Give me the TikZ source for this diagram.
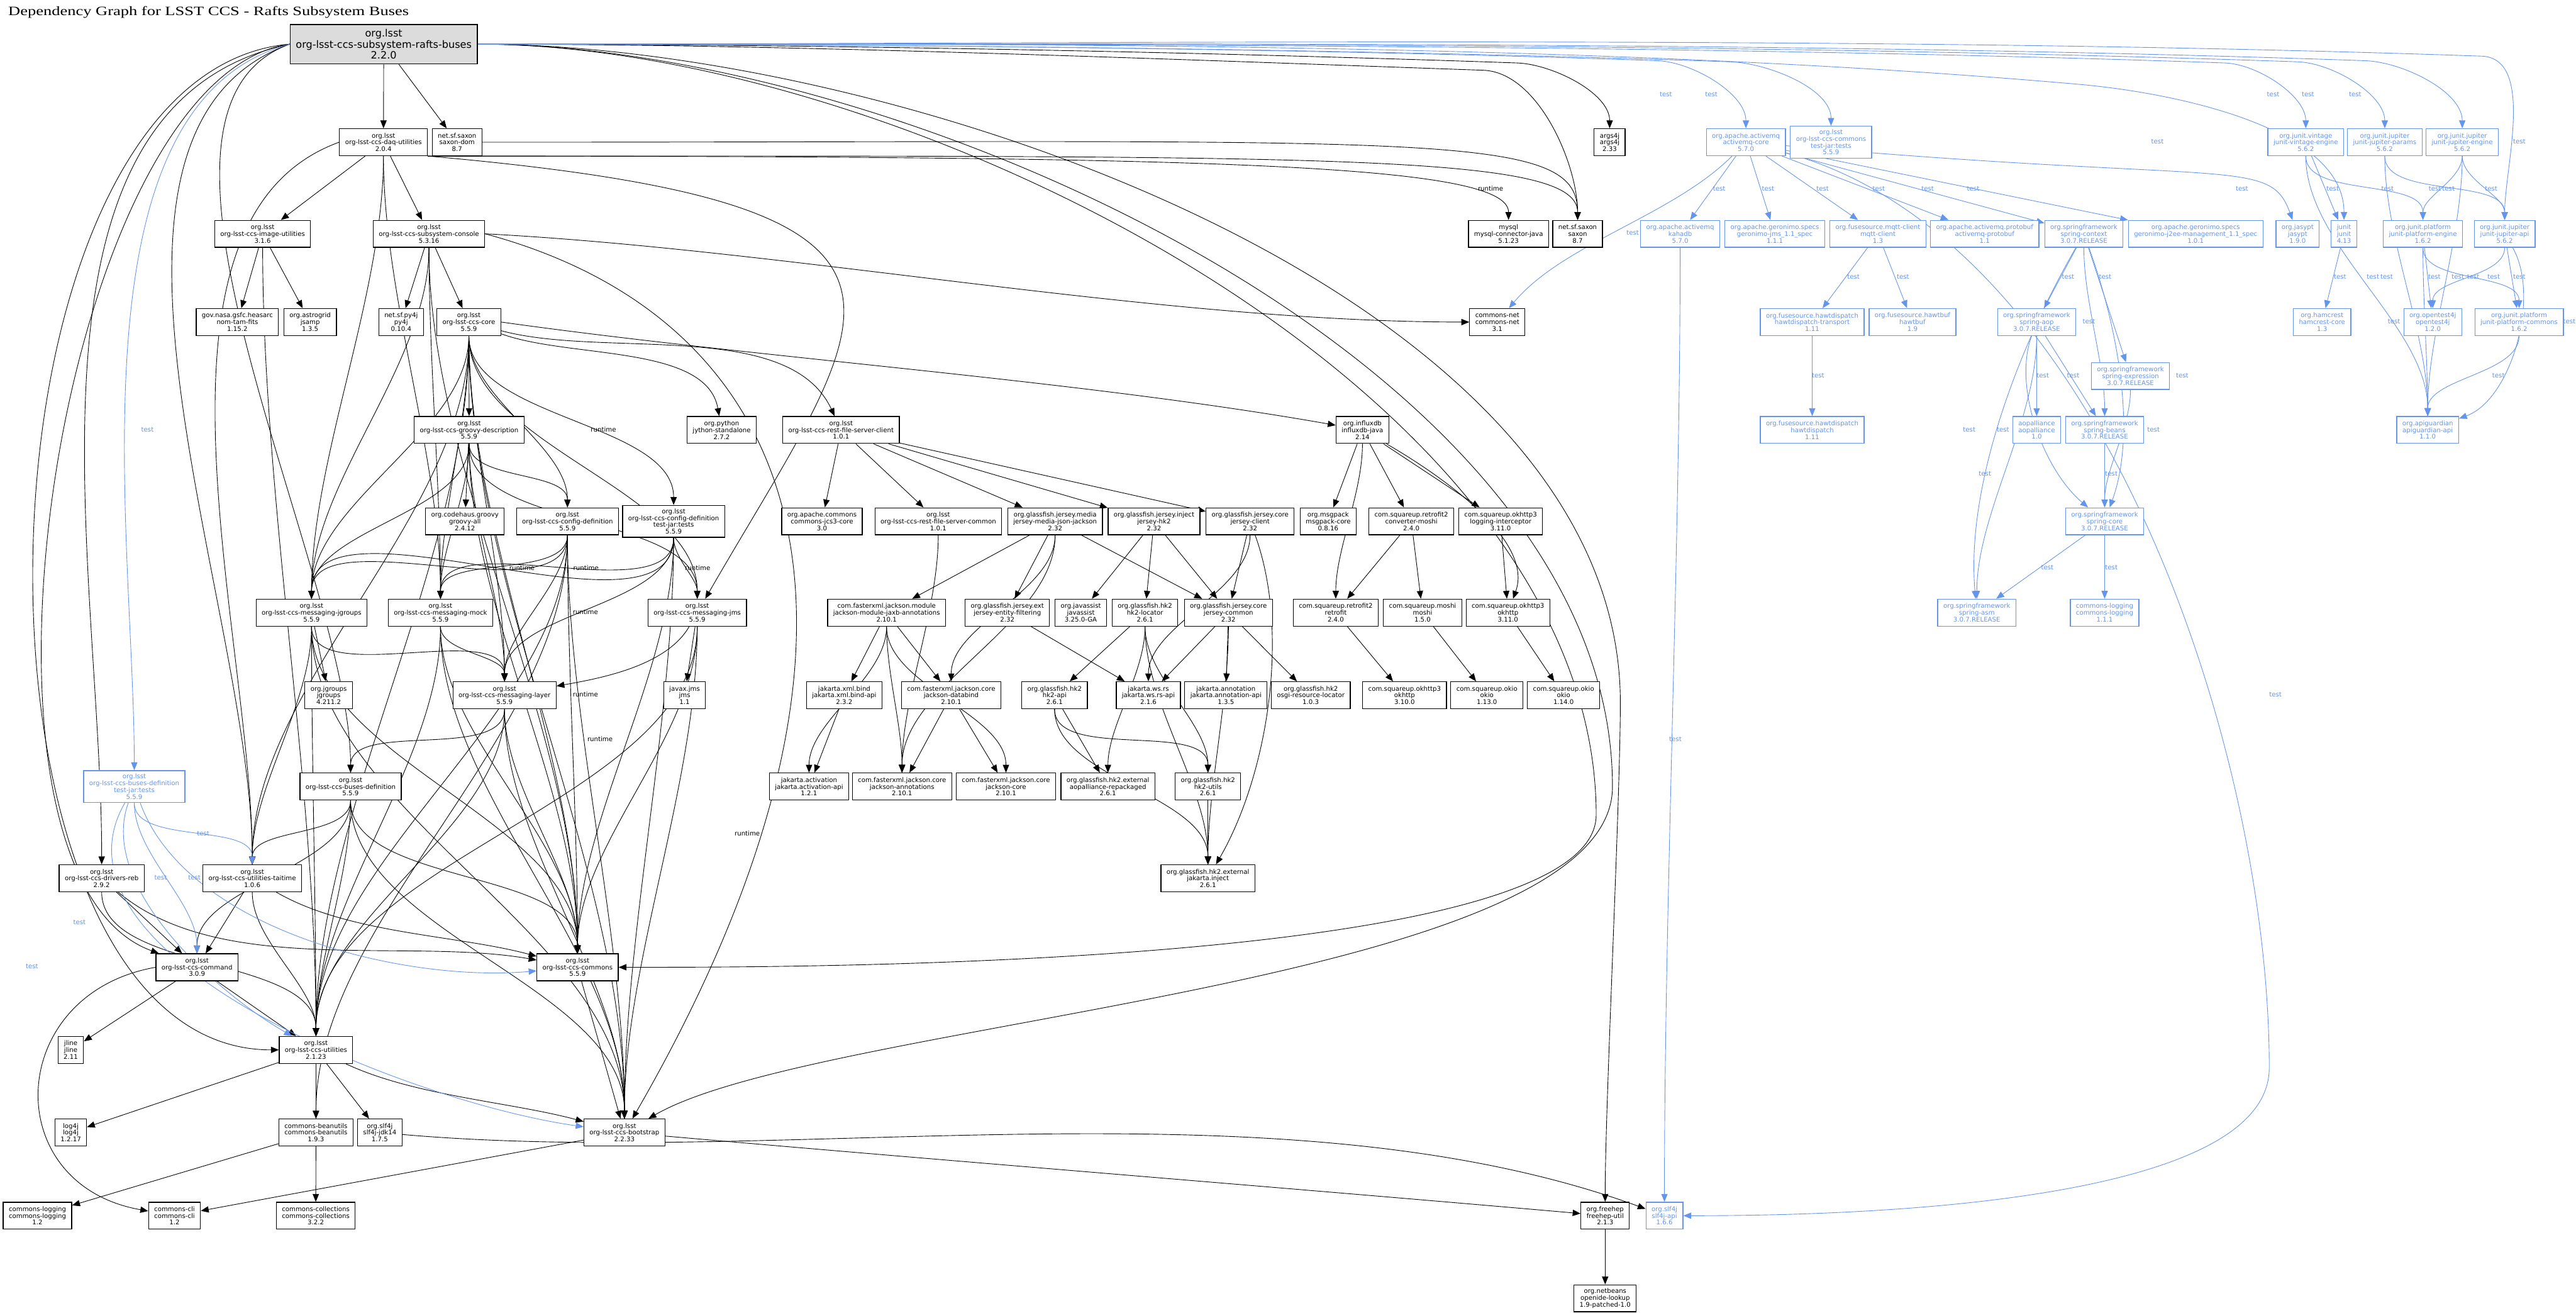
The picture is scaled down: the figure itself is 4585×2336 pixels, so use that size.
\documentclass[tikz,border=0pt]{standalone}
\usepackage{fontspec}
\usetikzlibrary{arrows.meta, backgrounds}
\newfontfamily\pkgfont{DejaVu Sans}
\newfontfamily\titlefont{Liberation Serif}[FakeStretch=1.3]
\definecolor{testBlue}{RGB}{100,149,237}
\definecolor{rootGray}{RGB}{220,220,220}

\begin{document}
\begin{tikzpicture}[x=0.25pt, y=-0.25pt,
    pkg/.style={rectangle, draw=black, line width=0.35pt, fill=white, align=center, inner xsep=2.5pt, inner ysep=1.5pt, minimum height=12pt, font=\pkgfont\fontsize{2.85}{3}\selectfont},
    testpkg/.style={pkg, draw=testBlue, text=testBlue},
    rootpkg/.style={pkg, fill=rootGray, line width=0.5pt, minimum height=17.5pt, font=\pkgfont\fontsize{4.5}{5}\selectfont},
    dep/.style={-{Triangle[length=3.5pt, width=2.8pt]}, line width=0.25pt, out=-90, in=90, looseness=0.8},
    testdep/.style={dep, testBlue},
    edgelabel/.style={inner sep=0pt, font=\pkgfont\fontsize{2.85}{3}\selectfont},
    testlabel/.style={edgelabel, text=testBlue}
]
\useasboundingbox (0,0) rectangle (4585,2336);

\node[anchor=west, inner sep=0pt, font=\titlefont\fontsize{5.7}{6.5}\selectfont] (title) at (14,22) {Dependency Graph for LSST CCS - Rafts Subsystem Buses};

% root and its first level
\node[rootpkg] (root) at (683,78.5) {org.lsst\\org-lsst-ccs-subsystem-rafts-buses\\2.2.0};
\node[pkg] (daqutil) at (682.5,253) {org.lsst\\org-lsst-ccs-daq-utilities\\2.0.4};
\node[pkg] (saxondom) at (813.5,253) {net.sf.saxon\\saxon-dom\\8.7};
\node[pkg] (args4j) at (2865,253) {args4j\\args4j\\2.33};
\node[testpkg] (activemq) at (3107.5,253) {org.apache.activemq\\activemq-core\\5.7.0};
\node[testpkg] (commonstj) at (3259,253) {org.lsst\\org-lsst-ccs-commons\\test-jar:tests\\5.5.9};
\node[testpkg] (vintage) at (4104,253) {org.junit.vintage\\junit-vintage-engine\\5.6.2};
\node[testpkg] (jupparams) at (4244.6,253) {org.junit.jupiter\\junit-jupiter-params\\5.6.2};
\node[testpkg] (jupengine) at (4382.5,253) {org.junit.jupiter\\junit-jupiter-engine\\5.6.2};

% second row
\node[pkg] (imageutil) at (467.5,416) {org.lsst\\org-lsst-ccs-image-utilities\\3.1.6};
\node[pkg] (console) at (763.5,416) {org.lsst\\org-lsst-ccs-subsystem-console\\5.3.16};
\node[pkg] (mysql) at (2685,416) {mysql\\mysql-connector-java\\5.1.23};
\node[pkg] (saxon) at (2808,416) {net.sf.saxon\\saxon\\8.7};
\node[testpkg] (kahadb) at (2990.5,416) {org.apache.activemq\\kahadb\\5.7.0};
\node[testpkg] (geronimojms) at (3159,416) {org.apache.geronimo.specs\\geronimo-jms\_1.1\_spec\\1.1.1};
\node[testpkg] (mqtt) at (3342.5,416) {org.fusesource.mqtt-client\\mqtt-client\\1.3};
\node[testpkg] (protobuf) at (3532.5,416) {org.apache.activemq.protobuf\\activemq-protobuf\\1.1};
\node[testpkg] (springctx) at (3709,416) {org.springframework\\spring-context\\3.0.7.RELEASE};
\node[testpkg] (geronimoj2ee) at (3908,416) {org.apache.geronimo.specs\\geronimo-j2ee-management\_1.1\_spec\\1.0.1};
\node[testpkg] (jasypt) at (4089.5,416) {org.jasypt\\jasypt\\1.9.0};
\node[testpkg] (junit) at (4172,416) {junit\\junit\\4.13};
\node[testpkg] (platengine) at (4312.5,416) {org.junit.platform\\junit-platform-engine\\1.6.2};
\node[testpkg] (jupapi) at (4458,416) {org.junit.jupiter\\junit-jupiter-api\\5.6.2};

% third row
\node[pkg] (nomtam) at (422.5,573) {gov.nasa.gsfc.heasarc\\nom-tam-fits\\1.15.2};
\node[pkg] (jsamp) at (552,573) {org.astrogrid\\jsamp\\1.3.5};
\node[pkg] (py4j) at (714,573) {net.sf.py4j\\py4j\\0.10.4};
\node[pkg] (core) at (834.5,573) {org.lsst\\org-lsst-ccs-core\\5.5.9};
\node[pkg] (commonsnet) at (2665,573) {commons-net\\commons-net\\3.1};
\node[testpkg] (hdtransport) at (3225.5,573) {org.fusesource.hawtdispatch\\hawtdispatch-transport\\1.11};
\node[testpkg] (hawtbuf) at (3404,573) {org.fusesource.hawtbuf\\hawtbuf\\1.9};
\node[testpkg] (springaop) at (3625,573) {org.springframework\\spring-aop\\3.0.7.RELEASE};
\node[testpkg] (hamcrest) at (4133,573) {org.hamcrest\\hamcrest-core\\1.3};
\node[testpkg] (opentest4j) at (4330,573) {org.opentest4j\\opentest4j\\1.2.0};
\node[testpkg] (platcommons) at (4483.7,573) {org.junit.platform\\junit-platform-commons\\1.6.2};
\node[testpkg] (springexpr) at (3792,669) {org.springframework\\spring-expression\\3.0.7.RELEASE};

% fourth row
\node[pkg] (groovydesc) at (835,765) {org.lsst\\org-lsst-ccs-groovy-description\\5.5.9};
\node[pkg] (jython) at (1284.5,765) {org.python\\jython-standalone\\2.7.2};
\node[pkg] (restclient) at (1497,765) {org.lsst\\org-lsst-ccs-rest-file-server-client\\1.0.1};
\node[pkg] (influxdb) at (2425,765) {org.influxdb\\influxdb-java\\2.14};
\node[testpkg] (hawtdispatch) at (3225.5,765) {org.fusesource.hawtdispatch\\hawtdispatch\\1.11};
\node[testpkg] (aopalliance) at (3625,765) {aopalliance\\aopalliance\\1.0};
\node[testpkg] (springbeans) at (3746,765) {org.springframework\\spring-beans\\3.0.7.RELEASE};
\node[testpkg] (apiguardian) at (4321,765) {org.apiguardian\\apiguardian-api\\1.1.0};

% fifth row
\node[pkg] (groovyall) at (827.5,927.5) {org.codehaus.groovy\\groovy-all\\2.4.12};
\node[pkg] (configdef) at (1010,927.5) {org.lsst\\org-lsst-ccs-config-definition\\5.5.9};
\node[pkg] (configdeftj) at (1199,927.5) {org.lsst\\org-lsst-ccs-config-definition\\test-jar:tests\\5.5.9};
\node[pkg] (jcs3) at (1463,927.5) {org.apache.commons\\commons-jcs3-core\\3.0};
\node[pkg] (restcommon) at (1670,927.5) {org.lsst\\org-lsst-ccs-rest-file-server-common\\1.0.1};
\node[pkg] (jsonjackson) at (1878,927.5) {org.glassfish.jersey.media\\jersey-media-json-jackson\\2.32};
\node[pkg] (jerseyhk2) at (2054,927.5) {org.glassfish.jersey.inject\\jersey-hk2\\2.32};
\node[pkg] (jerseyclient) at (2225,927.5) {org.glassfish.jersey.core\\jersey-client\\2.32};
\node[pkg] (msgpack) at (2364,927.5) {org.msgpack\\msgpack-core\\0.8.16};
\node[pkg] (convmoshi) at (2512,927.5) {com.squareup.retrofit2\\converter-moshi\\2.4.0};
\node[pkg] (loginterceptor) at (2671,927.5) {com.squareup.okhttp3\\logging-interceptor\\3.11.0};
\node[testpkg] (springcore) at (3746,927.5) {org.springframework\\spring-core\\3.0.7.RELEASE};

% sixth row
\node[pkg] (jgroupsmsg) at (554.5,1090) {org.lsst\\org-lsst-ccs-messaging-jgroups\\5.5.9};
\node[pkg] (mock) at (784,1090) {org.lsst\\org-lsst-ccs-messaging-mock\\5.5.9};
\node[pkg] (jms) at (1241,1090) {org.lsst\\org-lsst-ccs-messaging-jms\\5.5.9};
\node[pkg] (jaxbannot) at (1578,1090) {com.fasterxml.jackson.module\\jackson-module-jaxb-annotations\\2.10.1};
\node[pkg] (entityfilter) at (1793,1090) {org.glassfish.jersey.ext\\jersey-entity-filtering\\2.32};
\node[pkg] (javassist) at (1923.7,1090) {org.javassist\\javassist\\3.25.0-GA};
\node[pkg] (hk2locator) at (2038,1090) {org.glassfish.hk2\\hk2-locator\\2.6.1};
\node[pkg] (jerseycommon) at (2186.5,1090) {org.glassfish.jersey.core\\jersey-common\\2.32};
\node[pkg] (retrofit) at (2377.5,1090) {com.squareup.retrofit2\\retrofit\\2.4.0};
\node[pkg] (moshi) at (2532,1090) {com.squareup.moshi\\moshi\\1.5.0};
\node[pkg] (okhttp311) at (2684,1090) {com.squareup.okhttp3\\okhttp\\3.11.0};
\node[testpkg] (springasm) at (3518.5,1090) {org.springframework\\spring-asm\\3.0.7.RELEASE};
\node[testpkg] (commonslog111) at (3746,1090) {commons-logging\\commons-logging\\1.1.1};

% seventh row
\node[pkg] (jgroups) at (585,1237) {org.jgroups\\jgroups\\4.211.2};
\node[pkg] (msglayer) at (898,1237) {org.lsst\\org-lsst-ccs-messaging-layer\\5.5.9};
\node[pkg] (javaxjms) at (1218.5,1237) {javax.jms\\jms\\1.1};
\node[pkg] (jaxbapi) at (1502.7,1237) {jakarta.xml.bind\\jakarta.xml.bind-api\\2.3.2};
\node[pkg] (databind) at (1693,1237) {com.fasterxml.jackson.core\\jackson-databind\\2.10.1};
\node[pkg] (hk2api) at (1877,1237) {org.glassfish.hk2\\hk2-api\\2.6.1};
\node[pkg] (wsrs) at (2044,1237) {jakarta.ws.rs\\jakarta.ws.rs-api\\2.1.6};
\node[pkg] (annotationapi) at (2182,1237) {jakarta.annotation\\jakarta.annotation-api\\1.3.5};
\node[pkg] (osgiresloc) at (2333,1237) {org.glassfish.hk2\\osgi-resource-locator\\1.0.3};
\node[pkg] (okhttp310) at (2500,1237) {com.squareup.okhttp3\\okhttp\\3.10.0};
\node[pkg] (okio113) at (2646.5,1237) {com.squareup.okio\\okio\\1.13.0};
\node[pkg] (okio114) at (2783,1237) {com.squareup.okio\\okio\\1.14.0};

% eighth row
\node[testpkg] (busesdeftj) at (239,1399.5) {org.lsst\\org-lsst-ccs-buses-definition\\test-jar:tests\\5.5.9};
\node[pkg] (busesdef) at (624,1399.5) {org.lsst\\org-lsst-ccs-buses-definition\\5.5.9};
\node[pkg] (activation) at (1440,1399.5) {jakarta.activation\\jakarta.activation-api\\1.2.1};
\node[pkg] (annotations) at (1605.5,1399.5) {com.fasterxml.jackson.core\\jackson-annotations\\2.10.1};
\node[pkg] (jacksoncore) at (1790.5,1399.5) {com.fasterxml.jackson.core\\jackson-core\\2.10.1};
\node[pkg] (aopallrepack) at (1972,1399.5) {org.glassfish.hk2.external\\aopalliance-repackaged\\2.6.1};
\node[pkg] (hk2utils) at (2150,1399.5) {org.glassfish.hk2\\hk2-utils\\2.6.1};

% lower rows
\node[pkg] (driversreb) at (181,1562.7) {org.lsst\\org-lsst-ccs-drivers-reb\\2.9.2};
\node[pkg] (taitime) at (449,1562.7) {org.lsst\\org-lsst-ccs-utilities-taitime\\1.0.6};
\node[pkg] (jakartainject) at (2150,1562.7) {org.glassfish.hk2.external\\jakarta.inject\\2.6.1};
\node[pkg] (command) at (350.6,1721) {org.lsst\\org-lsst-ccs-command\\3.0.9};
\node[pkg] (commons) at (1028,1721) {org.lsst\\org-lsst-ccs-commons\\5.5.9};
\node[pkg] (jline) at (126,1868) {jline\\jline\\2.11};
\node[pkg] (utilities) at (562.4,1868) {org.lsst\\org-lsst-ccs-utilities\\2.1.23};
\node[pkg] (log4j) at (126,2015) {log4j\\log4j\\1.2.17};
\node[pkg] (beanutils) at (562.4,2015) {commons-beanutils\\commons-beanutils\\1.9.3};
\node[pkg] (slf4jjdk) at (676,2015) {org.slf4j\\slf4j-jdk14\\1.7.5};
\node[pkg] (bootstrap) at (1111.4,2015) {org.lsst\\org-lsst-ccs-bootstrap\\2.2.33};
\node[pkg] (commonslog12) at (66.7,2163) {commons-logging\\commons-logging\\1.2};
\node[pkg] (commonscli) at (310.6,2163) {commons-cli\\commons-cli\\1.2};
\node[pkg] (collections) at (562,2163) {commons-collections\\commons-collections\\3.2.2};
\node[pkg] (freehep) at (2857,2163) {org.freehep\\freehep-util\\2.1.3};
\node[testpkg] (slf4japi) at (2962.5,2163) {org.slf4j\\slf4j-api\\1.6.6};
\node[pkg] (openide) at (2857,2310) {org.netbeans\\openide-lookup\\1.9-patched-1.0};

% bends of the long connectors
\coordinate (bendargs) at (2700,112);
\coordinate (bendsaxon) at (2640,125);
\coordinate (dropcommons) at (2841,1450);
\coordinate (dropboot) at (2870,1400);
\coordinate (dropfreehep) at (2884,1250);
\coordinate (bendamq) at (2950,108);
\coordinate (bendctj) at (3080,110);
\coordinate (bendvintage) at (3960,112);
\coordinate (bendparams) at (4090,110);
\coordinate (bendengine) at (4210,108);
\coordinate (bendapi) at (4420,100);
\coordinate (bendjunit) at (3700,150);
\coordinate (dropslf) at (4039,1900);

\begin{pgfonlayer}{background}
\fill[white] (0,0) rectangle (4585,2336);

% compile and runtime dependencies
\draw[dep] (root) -- (daqutil);
\draw[dep] (root) -- (saxondom);
\draw[dep] (root.west) to[out=185, in=180, looseness=0.85] (utilities);
\draw[dep] (root.west) to[out=188, in=160, looseness=0.65] (command);
\draw[dep] (root.west) to[out=192, in=90, looseness=0.9] (driversreb);
\draw[dep] (root.west) to[out=200, in=90, looseness=0.7] (busesdef);
\draw[dep] (root.west) to[out=200, in=90, looseness=0.8] (taitime);
\draw[dep] (root.east) to[out=0, in=178] (bendargs) to[out=-2, in=90] (args4j);
\draw[dep] (root.east) to[out=0, in=178] (bendsaxon) to[out=-2, in=90] (saxon);
\draw[dep] (root.east) to[out=0, in=90] (dropcommons) to[out=-90, in=0, looseness=0.4] (commons);
\draw[dep] (root.east) to[out=0, in=90] (dropboot) to[out=-90, in=30, looseness=0.5] (bootstrap);
\draw[dep] (root.east) to[out=0, in=90] (dropfreehep) to[out=-90, in=90, looseness=0.5] (freehep);

\draw[dep] (daqutil) -- (imageutil);
\draw[dep] (daqutil) -- (console);
\draw[dep] (daqutil.south east) to[out=0, in=90, out distance=400pt, in distance=30pt] (saxon);
\draw[dep] (daqutil.south east) to[out=0, in=90, out distance=350pt, in distance=25pt] (mysql);
\draw[dep] (daqutil.south east) to[out=-5, in=60, out distance=250pt, in distance=150pt] (jms);
\draw[dep] (daqutil) to (jgroupsmsg);
\draw[dep] (daqutil) to (mock);
\draw[dep] (daqutil.west) to[out=200, in=90] (taitime);
\draw[dep] (saxondom.east) to[out=0, in=90, out distance=425pt, in distance=40pt] (saxon);

\draw[dep] (imageutil) -- (nomtam);
\draw[dep] (imageutil) -- (jsamp);
\draw[dep] (imageutil) to (utilities);

\draw[dep] (console) -- (py4j);
\draw[dep] (console) -- (core);
\draw[dep] (console.east) to[out=-3, in=180] (commonsnet);
\draw[dep] (console.east) to[out=-15, in=60, out distance=150pt, in distance=250pt] (bootstrap);
\draw[dep] (console) to (jgroupsmsg);
\draw[dep] (console) to (mock);
\draw[dep] (console) to (commons);

\draw[dep] (core) -- (groovydesc);
\draw[dep] (core) to[out=-20, in=100] (jython);
\draw[dep] (core) to[out=-15, in=115] (restclient);
\draw[dep] (core.east) to[out=-8, in=170] (influxdb);
\draw[dep] (core) to (configdef);
\draw[dep] (core) to (configdeftj);
\draw[dep] (core) to (jgroupsmsg);
\draw[dep] (core) to (mock);
\draw[dep] (core) to (msglayer);
\draw[dep] (core) to (jms);
\draw[dep] (core) to (commons);
\draw[dep] (core) to (bootstrap);
\draw[dep] (core) to (utilities);
\draw[dep] (core) to (taitime);

\draw[dep] (groovydesc) -- (groovyall);
\draw[dep] (groovydesc) to (configdef);
\draw[dep] (groovydesc) to (jgroupsmsg);
\draw[dep] (groovydesc) to (mock);
\draw[dep] (groovydesc) to (msglayer);
\draw[dep] (groovydesc) to (jms);
\draw[dep] (groovydesc) to (commons);

\draw[dep] (configdef) to (jgroupsmsg);
\draw[dep] (configdef) to (mock);
\draw[dep] (configdef) to (msglayer);
\draw[dep] (configdef) to (commons);
\draw[dep] (configdef) to (bootstrap);
\draw[dep] (configdef) to (beanutils);
\draw[dep] (configdef) to (utilities);

\draw[dep] (configdeftj) to (jgroupsmsg);
\draw[dep] (configdeftj) to (mock);
\draw[dep] (configdeftj) to (msglayer);
\draw[dep] (configdeftj) to (jms);
\draw[dep] (configdeftj) to (commons);
\draw[dep] (configdeftj) to (bootstrap);

\draw[dep] (jgroupsmsg) -- (jgroups);
\draw[dep] (jgroupsmsg) to (msglayer);
\draw[dep] (jgroupsmsg) to (utilities);
\draw[dep] (jgroupsmsg) to (commons);
\draw[dep] (jgroupsmsg) to (bootstrap);
\draw[dep] (jgroupsmsg) to (taitime);

\draw[dep] (mock) to (msglayer);
\draw[dep] (mock) to (commons);
\draw[dep] (mock) to (bootstrap);
\draw[dep] (mock) to (utilities);

\draw[dep] (msglayer) to (busesdef);
\draw[dep] (msglayer) to (commons);
\draw[dep] (msglayer) to (bootstrap);
\draw[dep] (msglayer) to (utilities);

\draw[dep] (jms) -- (javaxjms);
\draw[dep] (jms) to[out=-120, in=10] (msglayer);
\draw[dep] (jms) to (commons);
\draw[dep] (jms) to (bootstrap);
\draw[dep] (jms) to (utilities);

\draw[dep] (busesdef) to (taitime);
\draw[dep] (busesdef) to (command);
\draw[dep] (busesdef) to (utilities);
\draw[dep] (busesdef) to (commons);
\draw[dep] (busesdef) to (bootstrap);

\draw[dep] (driversreb) -- (command);
\draw[dep] (driversreb) to (utilities);
\draw[dep] (driversreb) to[out=-40, in=170] (commons);
\draw[dep] (taitime) -- (command);
\draw[dep] (taitime) to (utilities);
\draw[dep] (taitime) to[out=-30, in=165] (commons);

\draw[dep] (command) -- (jline);
\draw[dep] (command) -- (utilities);
\draw[dep] (command.west) to[out=190, in=170, looseness=1.6] (commonscli);
\draw[dep] (utilities) -- (log4j);
\draw[dep] (utilities) -- (beanutils);
\draw[dep] (utilities) -- (slf4jjdk);
\draw[dep] (utilities) to[out=-25, in=165] (bootstrap);
\draw[dep] (beanutils) -- (commonslog12);
\draw[dep] (beanutils) -- (collections);
\draw[dep] (bootstrap) -- (commonscli);
\draw[dep] (bootstrap) to[out=-5, in=175] (freehep);
\draw[dep] (slf4jjdk) to[out=-5, in=160] (slf4japi);
\draw[dep] (freehep) -- (openide);
\draw[dep] (commons) -- (bootstrap);

% rest client and jersey
\draw[dep] (restclient) -- (jcs3);
\draw[dep] (restclient) -- (restcommon);
\draw[dep] (restclient) -- (jsonjackson);
\draw[dep] (restclient) -- (jerseyhk2);
\draw[dep] (restclient) -- (jerseyclient);
\draw[dep] (restcommon) to (annotations);
\draw[dep] (jsonjackson) -- (jaxbannot);
\draw[dep] (jsonjackson) -- (entityfilter);
\draw[dep] (jsonjackson) -- (jerseycommon);
\draw[dep] (jsonjackson) to (databind);
\draw[dep] (jsonjackson) to (annotations);
\draw[dep] (jaxbannot) -- (jaxbapi);
\draw[dep] (jaxbannot) -- (databind);
\draw[dep] (jaxbannot) to (annotations);
\draw[dep] (jaxbannot) to (jacksoncore);
\draw[dep] (jaxbannot) to (activation);
\draw[dep] (databind) -- (annotations);
\draw[dep] (databind) -- (jacksoncore);
\draw[dep] (jaxbapi) -- (activation);
\draw[dep] (jerseyhk2) -- (javassist);
\draw[dep] (jerseyhk2) -- (hk2locator);
\draw[dep] (jerseyhk2) -- (jerseycommon);
\draw[dep] (jerseyclient) -- (jerseycommon);
\draw[dep] (jerseyclient) to (wsrs);
\draw[dep] (jerseyclient) to[out=-70, in=60] (jakartainject);
\draw[dep] (hk2locator) -- (hk2api);
\draw[dep] (hk2locator) to (aopallrepack);
\draw[dep] (hk2locator) to (hk2utils);
\draw[dep] (hk2locator) to (jakartainject);
\draw[dep] (hk2api) -- (aopallrepack);
\draw[dep] (hk2api) to (hk2utils);
\draw[dep] (hk2api) to (jakartainject);
\draw[dep] (hk2utils) -- (jakartainject);
\draw[dep] (jerseycommon) -- (wsrs);
\draw[dep] (jerseycommon) -- (annotationapi);
\draw[dep] (jerseycommon) -- (osgiresloc);
\draw[dep] (jerseycommon) to (jakartainject);
\draw[dep] (entityfilter) -- (wsrs);

% influxdb
\draw[dep] (influxdb) -- (msgpack);
\draw[dep] (influxdb) to (retrofit);
\draw[dep] (influxdb) -- (convmoshi);
\draw[dep] (influxdb) -- (loginterceptor);
\draw[dep] (influxdb) to[out=-30, in=70] (okhttp311);
\draw[dep] (convmoshi) -- (retrofit);
\draw[dep] (convmoshi) -- (moshi);
\draw[dep] (loginterceptor) -- (okhttp311);
\draw[dep] (retrofit) -- (okhttp310);
\draw[dep] (moshi) -- (okio113);
\draw[dep] (okhttp311) -- (okio114);

% test dependencies
\draw[testdep] (root.west) to[out=195, in=90, looseness=0.8] (busesdeftj);
\draw[testdep] (root.east) to[out=0, in=178] (bendamq) to[out=-2, in=90] (activemq);
\draw[testdep] (root.east) to[out=0, in=178] (bendctj) to[out=-2, in=90] (commonstj);
\draw[testdep] (root.east) to[out=0, in=178] (bendvintage) to[out=-2, in=90] (vintage);
\draw[testdep] (root.east) to[out=0, in=178] (bendparams) to[out=-2, in=90] (jupparams);
\draw[testdep] (root.east) to[out=0, in=178] (bendengine) to[out=-2, in=90] (jupengine);
\draw[testdep] (root.east) to[out=0, in=178] (bendapi) to[out=-5, in=90] (jupapi);
\draw[testdep] (root.east) to[out=0, in=175] (bendjunit) to[out=-5, in=90] (junit);

\draw[testdep] (activemq) -- (kahadb);
\draw[testdep] (activemq) -- (geronimojms);
\draw[testdep] (activemq) -- (mqtt);
\draw[testdep] (activemq) -- (protobuf);
\draw[testdep] (activemq) -- (springctx);
\draw[testdep] (activemq) -- (geronimoj2ee);
\draw[testdep] (activemq) to[out=-5, in=110, out distance=200pt, in distance=30pt] (jasypt);
\draw[testdep] (activemq) to[out=-15, in=90] (dropslf) to[out=-90, in=0, looseness=0.6] (slf4japi);
\draw[testdep] (activemq) to[out=-135, in=50] (commonsnet);
\draw[testdep] (mqtt) -- (hdtransport);
\draw[testdep] (mqtt) -- (hawtbuf);
\draw[testdep] (hdtransport) -- (hawtdispatch);
\draw[testdep] (kahadb) to (slf4japi);

\draw[testdep] (springctx) -- (springaop);
\draw[testdep] (springctx) -- (springexpr);
\draw[testdep] (springctx) to (springbeans);
\draw[testdep] (springctx) to[out=-70, in=70] (springcore);
\draw[testdep] (springctx) to[out=-120, in=95] (springasm);
\draw[testdep] (springaop) -- (aopalliance);
\draw[testdep] (springaop) -- (springbeans);
\draw[testdep] (springaop) to[out=-110, in=140] (springcore);
\draw[testdep] (springaop) to (springasm);
\draw[testdep] (springexpr) to (springcore);
\draw[testdep] (springbeans) -- (springcore);
\draw[testdep] (springcore) -- (springasm);
\draw[testdep] (springcore) -- (commonslog111);

\draw[testdep] (vintage) -- (junit);
\draw[testdep] (vintage) to (platengine);
\draw[testdep] (vintage) to (apiguardian);
\draw[testdep] (jupparams) to (jupapi);
\draw[testdep] (jupparams) to (apiguardian);
\draw[testdep] (jupengine) to (platengine);
\draw[testdep] (jupengine) to (jupapi);
\draw[testdep] (jupengine) to (apiguardian);
\draw[testdep] (junit) -- (hamcrest);
\draw[testdep] (platengine) -- (opentest4j);
\draw[testdep] (platengine) to (platcommons);
\draw[testdep] (platengine) to (apiguardian);
\draw[testdep] (jupapi) to (opentest4j);
\draw[testdep] (jupapi) -- (platcommons);
\draw[testdep] (jupapi) to[out=-60, in=20] (apiguardian);
\draw[testdep] (platcommons) to (apiguardian);

\draw[testdep] (busesdeftj) to (taitime);
\draw[testdep] (busesdeftj) to (command);
\draw[testdep] (busesdeftj) to[out=-70, in=185] (commons);
\draw[testdep] (busesdeftj) to[out=-110, in=150] (utilities);
\draw[testdep] (busesdeftj) to[out=-120, in=172] (bootstrap);
\end{pgfonlayer}

% edge labels
\node[edgelabel] (rt1) at (2653,336) {runtime};
\node[edgelabel] (rt2) at (1074,764) {runtime};
\node[edgelabel] (rt3) at (929,1011) {runtime};
\node[edgelabel] (rt4) at (1043,1011) {runtime};
\node[edgelabel] (rt5) at (1042,1089) {runtime};
\node[edgelabel] (rt6) at (1042,1236) {runtime};
\node[edgelabel] (rt7) at (1068,1315) {runtime};
\node[edgelabel] (rt8) at (1241.7,1011) {runtime};
\node[edgelabel] (rt9) at (1330,1483) {runtime};

\node[testlabel] (t1) at (262.5,764) {test};
\node[testlabel] (t2) at (2965,168) {test};
\node[testlabel] (t3) at (3046,168) {test};
\node[testlabel] (t4) at (3060,336) {test};
\node[testlabel] (t5) at (3147,336) {test};
\node[testlabel] (t6) at (3244,336) {test};
\node[testlabel] (t7) at (3344,336) {test};
\node[testlabel] (t8) at (3431,336) {test};
\node[testlabel] (t9) at (2906,414) {test};
\node[testlabel] (t10) at (3299,492) {test};
\node[testlabel] (t11) at (3387,492) {test};
\node[testlabel] (t12) at (3236,668) {test};
\node[testlabel] (t13) at (3512,336) {test};
\node[testlabel] (t14) at (3990.5,336) {test};
\node[testlabel] (t15) at (3840,252) {test};
\node[testlabel] (t16) at (4046,168) {test};
\node[testlabel] (t17) at (4108,168) {test};
\node[testlabel] (t18) at (4192,168) {test};
\node[testlabel] (t19) at (4484,252) {test};
\node[testlabel] (t20) at (4152,336) {test};
\node[testlabel] (t21) at (4249.5,336) {test};
\node[testlabel] (t22) at (4333.7,336) {test};
\node[testlabel] (t23) at (4358,336) {test};
\node[testlabel] (t24) at (4434,336) {test};
\node[testlabel] (t25) at (4223.7,492) {test};
\node[testlabel] (t26) at (4248,492) {test};
\node[testlabel] (t27) at (4165,492) {test};
\node[testlabel] (t28) at (4333,492) {test};
\node[testlabel] (t29) at (4374.8,492) {test};
\node[testlabel] (t30) at (4402,492) {test};
\node[testlabel] (t31) at (4438.6,492) {test};
\node[testlabel] (t32) at (4484,492) {test};
\node[testlabel] (t33) at (4261,572) {test};
\node[testlabel] (t34) at (4573,572) {test};
\node[testlabel] (t35) at (4447,668) {test};
\node[testlabel] (t36) at (3681,492) {test};
\node[testlabel] (t37) at (3747,492) {test};
\node[testlabel] (t38) at (3718,572) {test};
\node[testlabel] (t39) at (3884,668) {test};
\node[testlabel] (t40) at (3636,668) {test};
\node[testlabel] (t41) at (3690,668) {test};
\node[testlabel] (t42) at (3505,764) {test};
\node[testlabel] (t43) at (3565,764) {test};
\node[testlabel] (t44) at (3833,764) {test};
\node[testlabel] (t45) at (3533,843) {test};
\node[testlabel] (t46) at (3758,843) {test};
\node[testlabel] (t47) at (3644,1010) {test};
\node[testlabel] (t48) at (3758,1010) {test};
\node[testlabel] (t49) at (2982,1315) {test};
\node[testlabel] (t50) at (4050,1236) {test};
\node[testlabel] (t51) at (141.5,1640.6) {test};
\node[testlabel] (t52) at (57,1719) {test};
\node[testlabel] (t53) at (286,1562) {test};
\node[testlabel] (t54) at (346,1562) {test};
\node[testlabel] (t55) at (361.6,1483) {test};

\end{tikzpicture}
\end{document}
